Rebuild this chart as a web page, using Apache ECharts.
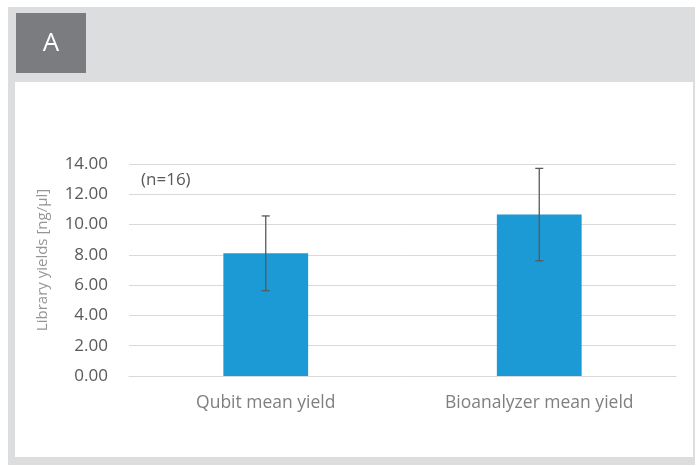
<!DOCTYPE html>
<html>
<head>
<meta charset="utf-8">
<script src="https://cdn.jsdelivr.net/npm/echarts@6/dist/echarts.min.js"></script>
<style>
html,body{margin:0;padding:0;background:#ffffff;}
#chart{width:699px;height:466px;}
</style>
</head>
<body>
<div id="chart"></div>
<script>
const categories = ['Qubit mean yield', 'Bioanalyzer mean yield'];
const meanYield = [8.1, 10.66];
const errorSize = [2.47, 3.05];
const yTicks = { min: 0, max: 14, interval: 2 };
const panelLabel = 'A';
const sampleNote = '(n=16)';
const yAxisName = 'Library yields [ng/µl]';

const chart = echarts.init(document.getElementById('chart'), null, { renderer: 'canvas' });

const errorData = categories.map((c, i) => [i, meanYield[i] - errorSize[i], meanYield[i] + errorSize[i]]);

chart.setOption({
  animation: false,
  backgroundColor: '#ffffff',
  graphic: [
    { type: 'rect', z: -10, shape: { x: 8, y: 7, width: 687, height: 458 }, style: { fill: '#dcdddf' } },
    { type: 'rect', z: -9, shape: { x: 15, y: 82, width: 678, height: 375 }, style: { fill: '#ffffff' } },
    { type: 'rect', z: -8, shape: { x: 16, y: 13, width: 70, height: 60 }, style: { fill: '#7a7c7f' } },
    { type: 'text', z: 10, x: 51, y: 44, style: { text: panelLabel, fill: '#ffffff', font: '26px "Open Sans"', textAlign: 'center', textVerticalAlign: 'middle' } },
    { type: 'text', z: 10, x: 141, y: 180, style: { text: sampleNote, fill: '#595959', font: '17px "Open Sans"', textAlign: 'left', textVerticalAlign: 'middle' } }
  ],
  grid: { left: 129, right: 23, top: 164, bottom: 90 },
  xAxis: {
    type: 'category',
    data: categories,
    axisLine: { show: true, lineStyle: { color: '#d9d9d9', width: 1 } },
    axisTick: { show: false },
    axisLabel: { color: '#7f7f7f', fontFamily: 'Open Sans', fontSize: 17.5, lineHeight: 20, margin: 17 }
  },
  yAxis: {
    type: 'value',
    min: yTicks.min, max: yTicks.max, interval: yTicks.interval,
    name: yAxisName,
    nameLocation: 'middle',
    nameRotate: 90,
    nameGap: 79,
    nameTextStyle: { color: '#959595', fontFamily: 'Open Sans', fontSize: 15, padding: [0, 0, 0, 20] },
    axisLine: { show: false },
    axisTick: { show: false },
    splitLine: { lineStyle: { color: '#d9d9d9', width: 1 } },
    axisLabel: { color: '#595959', fontFamily: 'Open Sans', fontSize: 17, margin: 21, formatter: v => v.toFixed(2) }
  },
  series: [
    {
      type: 'bar',
      data: meanYield,
      barWidth: '31%',
      itemStyle: { color: '#1b9ad6' }
    },
    {
      type: 'custom',
      data: errorData,
      z: 5,
      renderItem: function (params, api) {
        const x = api.value(0);
        const lo = api.coord([x, api.value(1)]);
        const hi = api.coord([x, api.value(2)]);
        const cap = 4;
        const style = { stroke: '#595959', lineWidth: 1.3 };
        return {
          type: 'group',
          children: [
            { type: 'line', shape: { x1: hi[0], y1: hi[1], x2: lo[0], y2: lo[1] }, style: style },
            { type: 'line', shape: { x1: hi[0] - cap, y1: hi[1], x2: hi[0] + cap, y2: hi[1] }, style: style },
            { type: 'line', shape: { x1: lo[0] - cap, y1: lo[1], x2: lo[0] + cap, y2: lo[1] }, style: style }
          ]
        };
      }
    }
  ]
});
</script>
</body>
</html>
